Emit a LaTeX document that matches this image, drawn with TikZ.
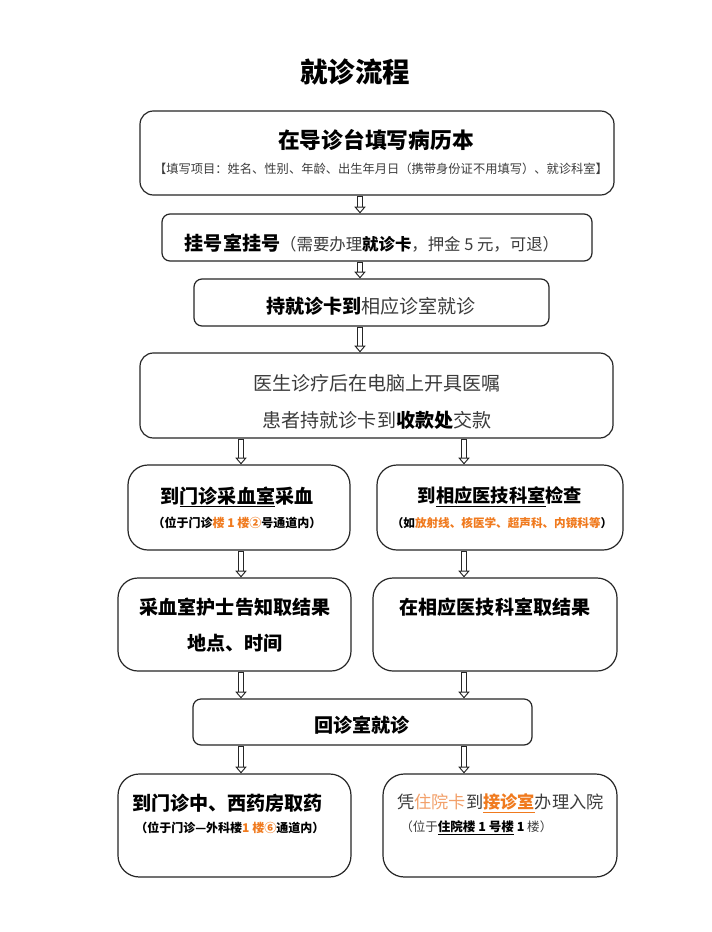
\documentclass[tikz,border=0pt]{standalone}
\usepackage{fontspec}
\setmainfont{Noto Sans CJK SC}
\usetikzlibrary{arrows.meta,fit}
\definecolor{txtgray}{HTML}{3C3C3C}
\definecolor{hlorange}{HTML}{F07A1E}
\definecolor{paleorange}{HTML}{F2A06A}
\newcommand\mainsz{\fontsize{14.3pt}{17pt}\selectfont}
\newcommand\subsz{\fontsize{9pt}{11pt}\selectfont}
\tikzset{
  flowbox/.style={draw=black!85, line width=0.9pt, inner sep=0pt, rounded corners=#1},
  flowbox/.default=10pt,
  arr/.style={
    preaction={draw=black!85, line width=3.8pt, arrows=-, shorten <=0.4pt, shorten >=4.6pt},
    draw=white, line width=2.4pt, shorten <=0.9pt,
    -{Triangle[open, length=5pt, width=8.4pt, line width=0.7pt, color=black!85, fill=white]}},
  txt/.style={inner sep=0pt}
}
\begin{document}
\begin{tikzpicture}[x=0.75pt,y=-0.75pt]
            \useasboundingbox[fill=white] (0,0) rectangle (712,932);
            \coordinate (mid) at (360,0);
            \coordinate (lft) at (241,0);
            \coordinate (rgt) at (464,0);

            \node[txt] (title) at (355,72) {\fontsize{20.6pt}{24pt}\selectfont\bfseries 就诊流程};

            \node[flowbox=10pt, fit={(140,111)(614,195)}] (b1) {};
            \node[flowbox=6pt, fit={(162,214)(592,261)}] (b2) {};
            \node[flowbox=6pt, fit={(194,279)(549,326)}] (b3) {};
            \node[flowbox=10pt, fit={(140,353)(613,438)}] (b4) {};
            \node[flowbox=15pt, fit={(128,465)(350,550)}] (b5) {};
            \node[flowbox=15pt, fit={(377,465)(623,550)}] (b6) {};
            \node[flowbox=15pt, fit={(118,578)(351,671)}] (b7) {};
            \node[flowbox=15pt, fit={(373,578)(617,671)}] (b8) {};
            \node[flowbox=6pt, fit={(193,699)(532,745)}] (b9) {};
            \node[flowbox=16pt, fit={(118,774)(351,877)}] (b10) {};
            \node[flowbox=16pt, fit={(383,774)(617,877)}] (b11) {};

            \node[txt] (t1) at (376,140) {\fontsize{16.3pt}{19pt}\selectfont\bfseries 在导诊台填写病历本};
            \node[txt] (t1s) at (381,169) {\fontsize{9.2pt}{11pt}\selectfont\color{txtgray}【填写项目：姓名、性别、年龄、出生年月日（携带身份证不用填写）、就诊科室】};
            \node[txt] (t2) at (372,243) {\mainsz\bfseries 挂号室挂号\fontsize{12.3pt}{15pt}\selectfont\mdseries\color{txtgray}（需要办理\textbf{\color{black}就诊卡}，押金 5 元，可退）};
            \node[txt] (t3) at (371,306) {\mainsz\textbf{持就诊卡到}\textcolor{txtgray}{相应诊室就诊}};
            \node[txt] (t4a) at (377,383) {\mainsz\color{txtgray}医生诊疗后在电脑上开具医嘱};
            \node[txt] (t4b) at (377,420) {\mainsz\color{txtgray}患者持就诊卡到\textbf{\color{black}收款处}交款};
            \node[txt] (t5) at (237,497) {\mainsz\bfseries 到\underline{门诊采血室}采血};
            \node[txt] (t5s) at (237,523) {\subsz\bfseries （位于门诊\textcolor{hlorange}{楼 1 楼②}号通道内）};
            \node[txt] (t6) at (500,497) {\fontsize{13.7pt}{16pt}\selectfont\bfseries 到\underline{相应医技科室}检查};
            \node[txt] (t6s) at (502,523) {\fontsize{8.7pt}{10pt}\selectfont\bfseries （如\textcolor{hlorange}{放射线、核医学、超声科、内镜科等}）};
            \node[txt] (t7a) at (235,607) {\mainsz\bfseries 采血室护士告知取结果};
            \node[txt] (t7b) at (235,643) {\mainsz\bfseries 地点、时间};
            \node[txt] (t8) at (495,607) {\mainsz\bfseries 在相应医技科室取结果};
            \node[txt] (t9) at (362,725) {\mainsz\bfseries 回诊室就诊};
            \node[txt, anchor=west] (t10) at (132,803) {\mainsz\bfseries 到门诊中、西药房取药};
            \node[txt, anchor=west] (t10s) at (135,828) {\subsz\bfseries （位于门诊—外科楼\textcolor{hlorange}{1 楼⑥}通道内）};
            \node[txt, anchor=west] (t11) at (397,803) {\fontsize{12.9pt}{15pt}\selectfont\color{txtgray}凭\textcolor{paleorange}{住院卡}到\textcolor{hlorange}{\bfseries\underline{接诊室}}办理入院};
            \node[txt, anchor=west] (t11s) at (400,828) {\fontsize{9.4pt}{11pt}\selectfont\color{txtgray}（位于\textbf{\color{black}\underline{住院楼 1 号楼}\ 1} 楼）};

            \draw[arr] (b1.south -| mid) -- (b2.north -| mid);
            \draw[arr] (b2.south -| mid) -- (b3.north -| mid);
            \draw[arr] (b3.south -| mid) -- (b4.north -| mid);
            \draw[arr] (b4.south -| lft) -- (b5.north -| lft);
            \draw[arr] (b4.south -| rgt) -- (b6.north -| rgt);
            \draw[arr] (b5.south -| lft) -- (b7.north -| lft);
            \draw[arr] (b6.south -| rgt) -- (b8.north -| rgt);
            \draw[arr] (b7.south -| lft) -- (b9.north -| lft);
            \draw[arr] (b8.south -| rgt) -- (b9.north -| rgt);
            \draw[arr] (b9.south -| lft) -- (b10.north -| lft);
            \draw[arr] (b9.south -| rgt) -- (b11.north -| rgt);
        \end{tikzpicture}
\end{document}
